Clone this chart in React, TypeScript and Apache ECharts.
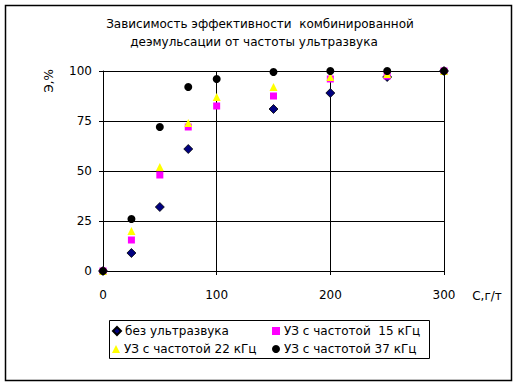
import React, { useEffect, useRef } from "react";
import * as echarts from "echarts";

const xValues = [0, 25, 50, 75, 100, 150, 200, 250, 300];
const noUltrasound: (number | null)[] = [0, 9, 32, 61, null, 81, 89, 97, 100];
const us15: (number | null)[] = [0, 15.5, 48, 72, 82.5, 87.5, 96, 97.5, 100];
const us22: (number | null)[] = [0, 20, 52, 74, 87, 92, 97, 98.5, 100];
const us37: (number | null)[] = [0, 26, 72, 92, 96, 99.5, 100, 100, 100];

const seriesNames = [
  "без ультразвука",
  "УЗ с частотой  15 кГц",
  "УЗ с частотой 22 кГц",
  "УЗ с частотой 37 кГц",
];
const seriesSymbols = ["diamond", "rect", "triangle", "circle"];
const titleLines = [
  "Зависимость эффективности  комбинированной",
  "деэмульсации от частоты ультразвука",
];
const xTicks = [0, 100, 200, 300];
const yTicks = [0, 25, 50, 75, 100];

const FONT = "DejaVu Sans";

function pairs(vals: (number | null)[]) {
  const out: number[][] = [];
  vals.forEach((v, i) => {
    if (v !== null) out.push([xValues[i], v]);
  });
  return out;
}

export default function App() {
  const ref = useRef<HTMLDivElement>(null);
  useEffect(() => {
    if (!ref.current) return;
    const chart = echarts.init(ref.current, null, { renderer: "svg" });
    const text = { fontFamily: FONT, fontSize: 12, color: "#000" };
    const legendPos = [
      { left: 112, top: 324 },
      { left: 272, top: 324 },
      { left: 112, top: 342 },
      { left: 272, top: 342 },
    ];
    const legends = seriesNames.map((name, i) => ({
      orient: "horizontal",
      left: legendPos[i].left,
      top: legendPos[i].top,
      padding: 0,
      itemWidth: 8,
      itemHeight: 8,
      itemGap: 0,
      textStyle: { ...text, lineHeight: 14, padding: [0, 0, 0, -1] },
      z: 5,
      data: [{ name, icon: seriesSymbols[i] }],
    }));
    chart.setOption({
      animation: false,
      backgroundColor: "#fff",
      grid: { left: 103, top: 71, right: 73, bottom: 115, containLabel: false },
      xAxis: {
        type: "value",
        min: xTicks[0],
        max: xTicks[xTicks.length - 1],
        interval: 100,
        axisLine: { show: true, lineStyle: { color: "#000", width: 1 } },
        axisTick: { show: true, length: 4, lineStyle: { color: "#000" } },
        axisLabel: { ...text, margin: 18 },
        splitLine: { show: true, lineStyle: { color: "#000", width: 1 } },
      },
      yAxis: {
        type: "value",
        min: yTicks[0],
        max: yTicks[yTicks.length - 1],
        interval: 25,
        axisLine: { show: true, lineStyle: { color: "#000", width: 1 } },
        axisTick: { show: true, length: 4, lineStyle: { color: "#000" } },
        axisLabel: { ...text, margin: 11 },
        splitLine: { show: true, lineStyle: { color: "#000", width: 1 } },
      },
      legend: legends,
      graphic: [
        {
          type: "rect",
          z: 0,
          silent: true,
          shape: { x: 5.5, y: 5.5, width: 506, height: 375 },
          style: { fill: "none", stroke: "#000", lineWidth: 1.5 },
        },
        {
          type: "rect",
          z: 1,
          silent: true,
          shape: { x: 109.5, y: 320.5, width: 320, height: 38 },
          style: { fill: "#fff", stroke: "#000", lineWidth: 1 },
        },
        {
          type: "text",
          x: 260,
          y: 24,
          style: { text: titleLines[0], font: `12px "${FONT}"`, fill: "#000", align: "center", verticalAlign: "middle" },
        },
        {
          type: "text",
          x: 254,
          y: 42,
          style: { text: titleLines[1], font: `12px "${FONT}"`, fill: "#000", align: "center", verticalAlign: "middle" },
        },
        {
          type: "text",
          x: 49,
          y: 81,
          rotation: Math.PI / 2,
          style: { text: "Э,%", font: `12px "${FONT}"`, fill: "#000", align: "center", verticalAlign: "middle" },
        },
        {
          type: "text",
          x: 487,
          y: 296,
          style: { text: "С,г/т", font: `12px "${FONT}"`, fill: "#000", align: "center", verticalAlign: "middle" },
        },
      ],
      series: [
        {
          name: seriesNames[0],
          type: "scatter",
          symbol: seriesSymbols[0],
          symbolSize: 9,
          itemStyle: { color: "#000080", borderColor: "#000", borderWidth: 0.8, opacity: 1 },
          data: pairs(noUltrasound),
        },
        {
          name: seriesNames[1],
          type: "scatter",
          symbol: seriesSymbols[1],
          symbolSize: 7,
          itemStyle: { color: "#FF00FF", opacity: 1 },
          data: pairs(us15),
        },
        {
          name: seriesNames[2],
          type: "scatter",
          symbol: seriesSymbols[2],
          symbolSize: 8,
          itemStyle: { color: "#FFFF00", opacity: 1 },
          data: pairs(us22),
        },
        {
          name: seriesNames[3],
          type: "scatter",
          symbol: seriesSymbols[3],
          symbolSize: 8,
          itemStyle: { color: "#000", opacity: 1 },
          data: pairs(us37),
        },
      ],
    });
    return () => chart.dispose();
  }, []);
  return (
    <div
      ref={ref}
      style={{ position: "absolute", left: 0, top: 0, width: 517, height: 386 }}
    />
  );
}
